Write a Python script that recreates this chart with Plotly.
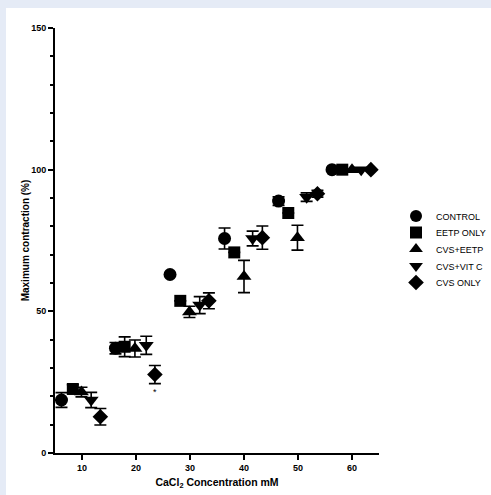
import plotly.graph_objects as go

# ---- data ----
series_names = ["CONTROL", "EETP ONLY", "CVS+EETP", "CVS+VIT C", "CVS ONLY"]

control_x = [6.2, 16.2, 26.3, 36.4, 46.4, 56.3]
control_y = [18.7, 37.0, 63.0, 75.7, 88.9, 100.0]
control_err = [2.6, 2.0, 0.0, 3.7, 1.5, 0.0]

eetp_x = [8.3, 17.9, 28.2, 38.2, 48.2, 58.2]
eetp_y = [22.6, 37.5, 53.7, 70.8, 84.7, 100.0]
eetp_err = [1.5, 3.5, 0.0, 0.0, 0.0, 0.0]

cvs_eetp_x = [9.9, 19.8, 29.9, 40.0, 49.9, 60.0]
cvs_eetp_y = [21.5, 36.9, 49.8, 62.3, 76.0, 100.0]
cvs_eetp_err = [1.7, 3.0, 2.0, 5.7, 4.4, 0.0]

cvs_vitc_x = [11.7, 21.9, 31.8, 41.6, 51.6, 61.7]
cvs_vitc_y = [18.7, 38.0, 52.2, 75.7, 90.3, 100.0]
cvs_vitc_err = [2.7, 3.2, 3.0, 2.6, 1.5, 0.0]

cvs_only_x = [13.4, 23.5, 33.5, 43.4, 53.6, 63.5]
cvs_only_y = [12.8, 27.7, 53.7, 76.0, 91.5, 100.0]
cvs_only_err = [2.9, 3.2, 2.8, 4.1, 1.2, 0.0]

star_x = [23.6]
star_y = [21.6]
star_text = ["*"]

x_ticks = [10, 20, 30, 40, 50, 60]
y_ticks = [0, 50, 100, 150]

# ---- figure ----
xs = [control_x, eetp_x, cvs_eetp_x, cvs_vitc_x, cvs_only_x]
ys = [control_y, eetp_y, cvs_eetp_y, cvs_vitc_y, cvs_only_y]
errs = [control_err, eetp_err, cvs_eetp_err, cvs_vitc_err, cvs_only_err]
symbols = ["circle", "square", "triangle-up", "triangle-down", "diamond"]
sizes = [13, 12, 13, 13, 12]

FONT = "Liberation Sans, Arial, sans-serif"
BG = "#E5EBF6"

FW, FH = 491, 495
ml, mr, mt, mb = 55, 112, 28, 42
pw, ph = FW - ml - mr, FH - mt - mb

def fx(px):  # page-pixel x -> paper x
    return (px - ml) / pw

def fy(py):  # page-pixel y -> paper y
    return (FH - mb - py) / ph

legend_rows_px = [216, 232.5, 249, 266, 282.5]
legend_left_px = 396

fig = go.Figure()
layout_legends = {}
for i, (name, x, y, e, sym, sz) in enumerate(zip(series_names, xs, ys, errs, symbols, sizes)):
    lid = "legend" if i == 0 else f"legend{i + 1}"
    fig.add_trace(go.Scatter(
        x=x, y=y, mode="markers", name=name, legend=lid,
        marker=dict(symbol=sym, size=sz, color="black", line=dict(width=0)),
        error_y=dict(type="data", array=e, visible=True, color="black",
                     thickness=1.6, width=6),
    ))
    layout_legends[lid] = dict(
        x=fx(legend_left_px), y=fy(legend_rows_px[i]), xanchor="left", yanchor="middle",
        bgcolor="rgba(0,0,0,0)", font=dict(family=FONT, size=9, color="black"),
        itemsizing="constant")

for sx, sy, st in zip(star_x, star_y, star_text):
    fig.add_annotation(x=sx, y=sy, text=st, showarrow=False,
                       font=dict(family=FONT, size=9, color="black"))

# white panel leaving a thin tinted strip at the top and left edges
fig.add_shape(type="rect", xref="paper", yref="paper",
              x0=fx(6), x1=fx(FW + 20), y0=fy(FH + 20), y1=fy(8),
              fillcolor="white", line=dict(width=0), layer="below")

fig.update_layout(
    width=FW, height=FH,
    margin=dict(l=ml, r=mr, t=mt, b=mb, autoexpand=False),
    paper_bgcolor=BG,
    plot_bgcolor="white",
    font=dict(family=FONT, color="black"),
    showlegend=True,
    xaxis=dict(range=[5, 65], tickvals=x_ticks, ticks="outside", ticklen=5, tickwidth=2,
               tickcolor="black", showline=True, linecolor="black", linewidth=2,
               showgrid=False, zeroline=False, automargin=False,
               tickfont=dict(family=FONT, size=9, color="black", weight="bold"),
               title=dict(text="CaCl<sub>2</sub> Concentration mM", standoff=7,
                          font=dict(family=FONT, size=10.5, color="black", weight="bold"))),
    yaxis=dict(range=[0, 150], tickvals=y_ticks, ticks="outside", ticklen=5, tickwidth=2,
               tickcolor="black", showline=True, linecolor="black", linewidth=2,
               showgrid=False, zeroline=False, automargin=False,
               minor=dict(dtick=10, ticks="outside", ticklen=3, tickwidth=1.5, tickcolor="black",
                          showgrid=False),
               tickfont=dict(family=FONT, size=9, color="black", weight="bold"),
               title=dict(text="Maximum contraction (%)", standoff=0,
                          font=dict(family=FONT, size=10, color="black", weight="bold"))),
    **layout_legends,
)

post = (
    "document.documentElement.style.background='" + BG + "';"
    "document.body.style.margin='0';"
    "document.body.style.overflow='hidden';"
)

fig.write_html("out.html", post_script=post, config={"displayModeBar": False})
